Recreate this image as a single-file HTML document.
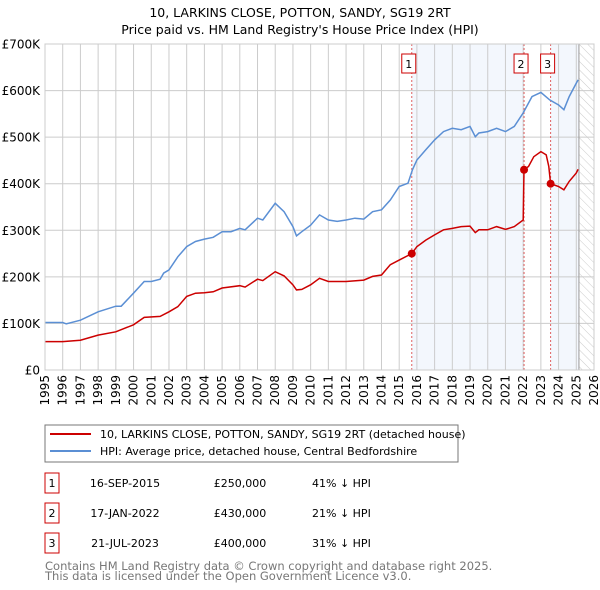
<!DOCTYPE html>
<html><head><meta charset="utf-8"><style>
body{margin:0;background:#fff;font-family:"Liberation Sans","DejaVu Sans",sans-serif;}
svg{display:block}
</style></head><body>
<svg id="c" width="600" height="590" viewBox="0 0 600 590" font-family="DejaVu Sans, Liberation Sans, sans-serif">
<defs><pattern id="hatch" width="6" height="6" patternUnits="userSpaceOnUse" patternTransform="rotate(-45)"><line x1="0" y1="0" x2="0" y2="6" stroke="#ccc" stroke-width="1"/></pattern></defs>
<text x="300" y="17" text-anchor="middle" font-size="12.5">10, LARKINS CLOSE, POTTON, SANDY, SG19 2RT</text>
<text x="300" y="34" text-anchor="middle" font-size="12.5">Price paid vs. HM Land Registry's House Price Index (HPI)</text>
<g id="plot"></g>
<rect x="45" y="425" width="413" height="37" fill="#fff" stroke="#777"/>
<line x1="50" y1="434" x2="91" y2="434" stroke="#cc0000" stroke-width="2"/>
<text x="100" y="438" font-size="11">10, LARKINS CLOSE, POTTON, SANDY, SG19 2RT (detached house)</text>
<line x1="50" y1="451" x2="91" y2="451" stroke="#5b8fd4" stroke-width="2"/>
<text x="100" y="455" font-size="11">HPI: Average price, detached house, Central Bedfordshire</text>
<g id="tbl" font-size="11"></g>
<text x="45" y="570" font-size="11.5" fill="#777">Contains HM Land Registry data © Crown copyright and database right 2025.</text>
<text x="45" y="580" font-size="11.5" fill="#777">This data is licensed under the Open Government Licence v3.0.</text>
</svg>
<script>
const hpiYears=[1995,1996,1996.2,1997,1998,1999,1999.3,2000,2000.6,2001,2001.5,2001.7,2002,2002.5,2003,2003.5,2004,2004.5,2005,2005.5,2006,2006.3,2007,2007.3,2008,2008.5,2009,2009.2,2009.5,2010,2010.5,2011,2011.5,2012,2012.5,2013,2013.5,2014,2014.5,2015,2015.5,2015.75,2016,2016.5,2017,2017.5,2018,2018.5,2019,2019.3,2019.5,2020,2020.5,2021,2021.5,2022,2022.5,2023,2023.5,2024,2024.3,2024.6,2025,2025.1];
const hpiValues=[102,102,99,107,125,137,137,165,190,190,195,208,215,243,265,276,281,285,297,297,304,301,326,322,358,340,308,288,297,311,333,322,319,322,326,324,340,344,365,394,401,430,451,473,494,512,519,516,523,501,509,512,519,512,523,552,587,596,580,569,559,587,616,623];
const priceYears=[1995,1996,1997,1998,1999,2000,2000.6,2001.5,2002,2002.5,2003,2003.5,2004,2004.5,2005,2006,2006.3,2007,2007.3,2008,2008.5,2009,2009.2,2009.5,2010,2010.5,2011,2012,2013,2013.5,2014,2014.5,2015,2015.71,2016,2016.5,2017,2017.5,2018,2018.5,2019,2019.3,2019.5,2020,2020.5,2021,2021.5,2022.0,2022.05,2022.3,2022.6,2023,2023.3,2023.45,2023.55,2024,2024.3,2024.6,2025,2025.1];
const priceValues=[61,61,64,75,82,97,113,115,125,136,158,165,166,168,176,181,178,195,192,211,202,183,172,173,183,197,190,190,193,201,204,226,236,250,265,279,290,301,304,308,309,295,301,301,308,302,308,322,430,437,458,469,462,437,400,394,387,405,423,431];
const saleLabels=["1","2","3"];
const saleYears=[2015.71,2022.05,2023.55];
const salePrices=[250,430,400];
const saleDates=["16-SEP-2015","17-JAN-2022","21-JUL-2023"];
const salePriceText=["£250,000","£430,000","£400,000"];
const salePct=["41% ↓ HPI","21% ↓ HPI","31% ↓ HPI"];
const yTicks=[0,100,200,300,400,500,600,700];
const yTickLabels=["£0","£100K","£200K","£300K","£400K","£500K","£600K","£700K"];
const xTicks=[];for(let y=1995;y<=2026;y++)xTicks.push(y);
const dataEnd=2025.15;

const X0=45,X1=594,Y0=370,Y1=44;
const xs=v=>X0+(v-1995)/(2026-1995)*(X1-X0);
const ys=v=>Y0-v/700*(Y0-Y1);
const NS="http://www.w3.org/2000/svg";
const plot=document.getElementById('plot');
function mk(tag,attrs,parent){const e=document.createElementNS(NS,tag);for(const k in attrs)e.setAttribute(k,attrs[k]);(parent||plot).appendChild(e);return e;}

let e;
e=mk('rect',{x:xs(saleYears[0]),y:Y1,width:xs(saleYears[1])-xs(saleYears[0]),height:Y0-Y1,fill:'#eef3fc',opacity:0.7});


e=mk('rect',{x:xs(saleYears[2]),y:Y1,width:xs(dataEnd)-xs(saleYears[2]),height:Y0-Y1,fill:'#eef3fc',opacity:0.7});


e=mk('rect',{x:xs(dataEnd),y:Y1,width:X1-xs(dataEnd),height:Y0-Y1,fill:'url(#hatch)'});


xTicks.forEach(t=>{
 e=mk('line',{x1:xs(t),x2:xs(t),y1:Y1,y2:Y0,stroke:'#ccc','stroke-width':1});
 
 
 e=mk('text',{x:0,y:0,'font-size':12,'text-anchor':'end',transform:`translate(${xs(t)+4},${Y0+5}) rotate(-90)`});
 e.textContent=t;
 
 
});
yTicks.forEach((t,i)=>{
 e=mk('line',{x1:X0,x2:X1,y1:ys(t),y2:ys(t),stroke:'#ccc','stroke-width':1});
 
 
 e=mk('text',{x:X0-5,y:ys(t)+4.5,'font-size':12,'text-anchor':'end'});
 e.textContent=yTickLabels[i];
 
 
});
e=mk('line',{x1:xs(dataEnd),x2:xs(dataEnd),y1:Y1,y2:Y0,stroke:'#999','stroke-width':1});


saleYears.forEach((s,i)=>{
 e=mk('line',{x1:xs(s),x2:xs(s),y1:Y1,y2:Y0,stroke:'#e06060','stroke-width':1,'stroke-dasharray':'2,2'});
 
 
});
e=mk('path',{d:hpiYears.map((v,i)=>(i?'L':'M')+xs(v).toFixed(1)+','+ys(hpiValues[i]).toFixed(1)).join(''),fill:'none',stroke:'#5b8fd4','stroke-width':1.5});


e=mk('path',{d:priceYears.map((v,i)=>(i?'L':'M')+xs(v).toFixed(1)+','+ys(priceValues[i]).toFixed(1)).join(''),fill:'none',stroke:'#cc0000','stroke-width':1.5});


saleYears.forEach((s,i)=>{
 e=mk('circle',{cx:xs(s),cy:ys(salePrices[i]),r:4,fill:'#cc0000'});
 
 
 e=mk('rect',{x:xs(s)-10,y:54,width:14,height:19,fill:'#fff',stroke:'#cc0000'});
 
 
 e=mk('text',{x:xs(s)-3,y:68,'font-size':11,'text-anchor':'middle'});
 e.textContent=saleLabels[i];
 
 
});
e=mk('rect',{x:X0,y:Y1,width:X1-X0,height:Y0-Y1,fill:'none',stroke:'#ccc'});



const tbl=document.getElementById('tbl');
saleLabels.forEach((l,i)=>{
 const cy=483+i*30;
 e=mk('rect',{x:45,y:cy-10,width:14,height:20,fill:'#fff',stroke:'#cc0000'},tbl);
 
 
 e=mk('text',{x:52,y:cy+4,'text-anchor':'middle'},tbl);e.textContent=l;
 
 
 e=mk('text',{x:125,y:cy+4,'text-anchor':'middle'},tbl);e.textContent=saleDates[i];
 
 
 e=mk('text',{x:240,y:cy+4,'text-anchor':'middle'},tbl);e.textContent=salePriceText[i];
 
 
 e=mk('text',{x:312,y:cy+4},tbl);e.textContent=salePct[i];
 
 
});
</script>
</body></html>
